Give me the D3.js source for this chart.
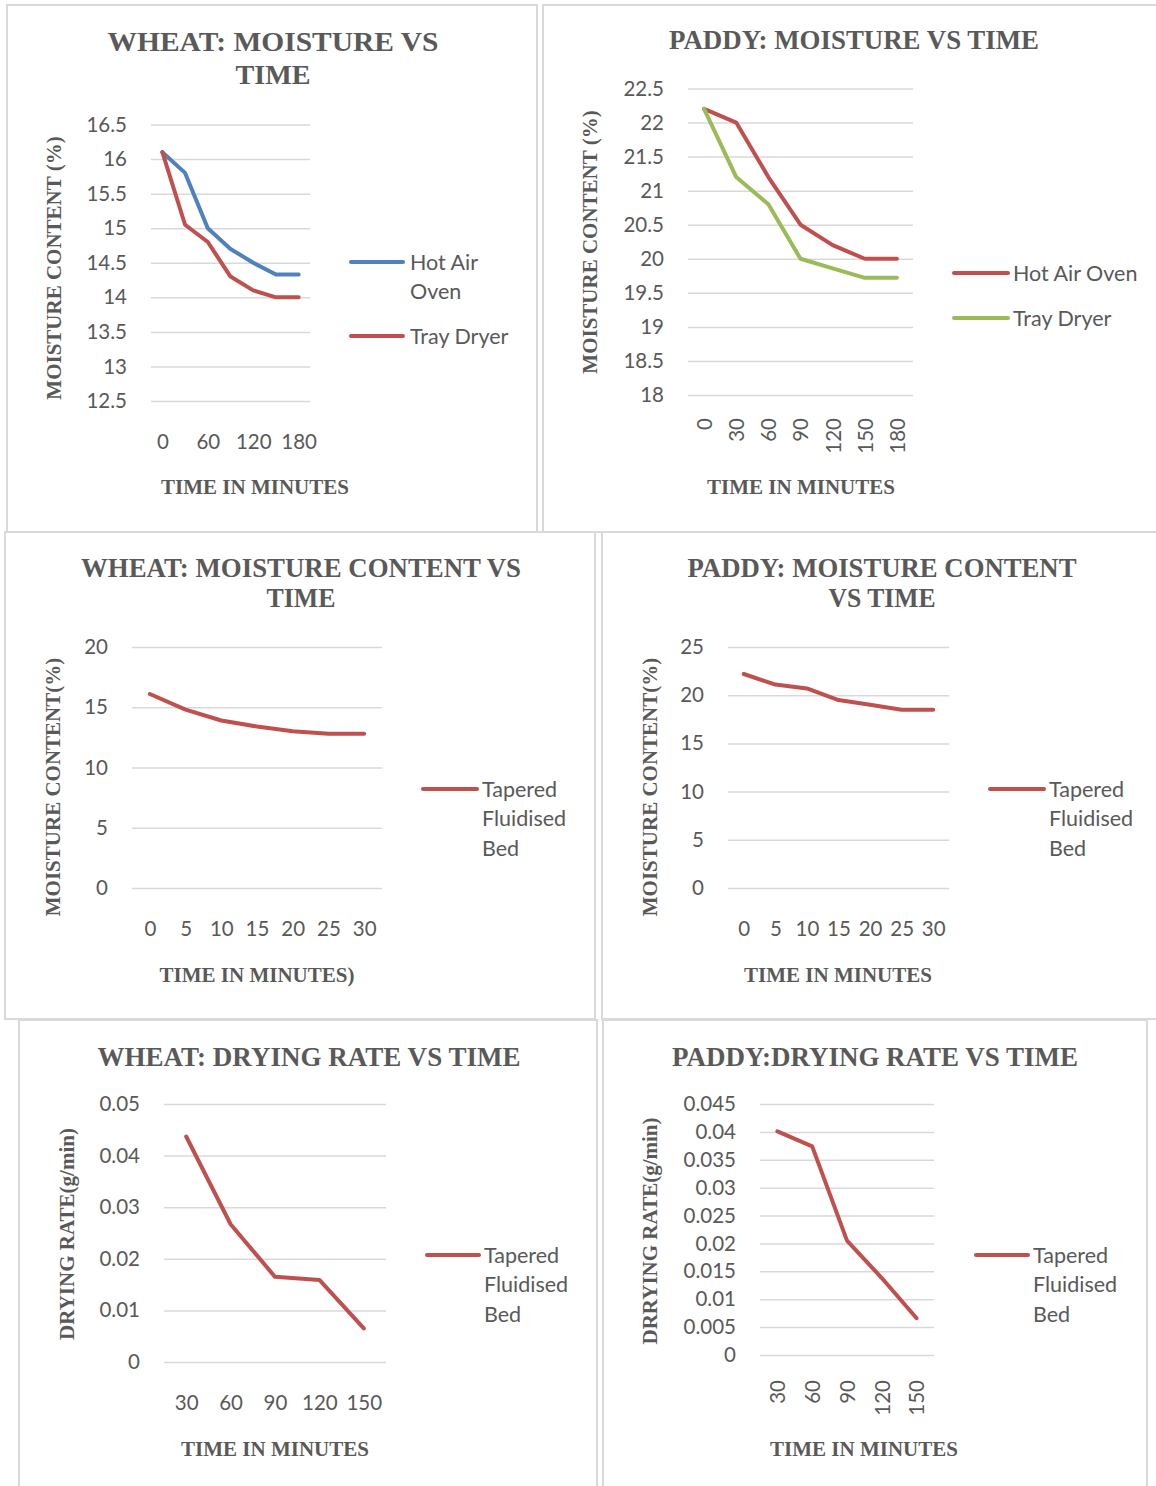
<!DOCTYPE html>
<html>
<head>
<meta charset="utf-8">
<script src="https://cdn.jsdelivr.net/npm/d3@7"></script>
<style>
  html, body { margin: 0; padding: 0; background: #ffffff; }
  svg { display: block; }
</style>
</head>
<body>
<script>
// ---------------- DATA ----------------
// Wheat: moisture vs time (Hot Air Oven / Tray Dryer)
const wheatTime = [0, 30, 60, 90, 120, 150, 180];
const wheatTimeShown = [0, 60, 120, 180];
const wheatHotAirOven = [16.1, 15.8, 15.0, 14.7, 14.5, 14.33, 14.33];
const wheatTrayDryer = [16.1, 15.05, 14.8, 14.3, 14.1, 14.0, 14.0];
const wheatMoistureTicks = [12.5, 13, 13.5, 14, 14.5, 15, 15.5, 16, 16.5];

// Paddy: moisture vs time (Hot Air Oven / Tray Dryer)
const paddyTime = [0, 30, 60, 90, 120, 150, 180];
const paddyHotAirOven = [22.2, 22.0, 21.2, 20.5, 20.2, 20.0, 20.0];
const paddyTrayDryer = [22.2, 21.2, 20.8, 20.0, 19.86, 19.72, 19.72];
const paddyMoistureTicks = [18, 18.5, 19, 19.5, 20, 20.5, 21, 21.5, 22, 22.5];

// Tapered fluidised bed: moisture content vs time
const tfbTime = [0, 5, 10, 15, 20, 25, 30];
const wheatTFB = [16.1, 14.8, 13.9, 13.4, 13.0, 12.8, 12.8];
const paddyTFB = [22.2, 21.1, 20.7, 19.5, 19.0, 18.5, 18.5];
const wheatTFBTicks = [0, 5, 10, 15, 20];
const paddyTFBTicks = [0, 5, 10, 15, 20, 25];

// Tapered fluidised bed: drying rate vs time
const rateTime = [30, 60, 90, 120, 150];
const wheatRate = [0.0437, 0.0267, 0.0165, 0.0159, 0.0065];
const paddyRate = [0.0401, 0.0374, 0.0205, 0.0138, 0.0066];
const wheatRateTicks = [0, 0.01, 0.02, 0.03, 0.04, 0.05];
const paddyRateTicks = [0, 0.005, 0.01, 0.015, 0.02, 0.025, 0.03, 0.035, 0.04, 0.045];

// ---------------- STYLE ----------------
const BLUE = "#4f81bd", RED = "#c0504d", GREEN = "#9bbb59";
const GRID = "#d9d9d9", TXT = "#595959";
const SANS = "Lato, 'Open Sans', sans-serif";
const SERIF = "'Liberation Serif', 'Times New Roman', serif";

const svg = d3.select("body").append("svg")
  .attr("width", 1156).attr("height", 1486)
  .style("background", "#ffffff");

function drawPanel(c) {
  const g = svg.append("g");
  g.append("rect")
    .attr("x", c.box[0]).attr("y", c.box[1]).attr("width", c.box[2]).attr("height", c.box[3])
    .attr("fill", "none").attr("stroke", GRID).attr("stroke-width", 2);

  const x = d3.scalePoint().domain(c.cats).range([c.gx0, c.gx1]).padding(0.5);
  const y = d3.scaleLinear().domain(d3.extent(c.yTicks)).range([c.gyBot, c.gyTop]);

  // gridlines
  const grid = g.append("g").attr("transform", `translate(${c.gx0},0)`)
    .call(d3.axisLeft(y).tickValues(c.yTicks).tickSize(-(c.gx1 - c.gx0)).tickFormat(""));
  grid.select(".domain").remove();
  grid.selectAll("line").attr("stroke", GRID).attr("stroke-width", 1.5);

  // y tick labels
  const ya = g.append("g").attr("transform", `translate(${c.gx0},0)`)
    .call(d3.axisLeft(y).tickValues(c.yTicks).tickSize(0).tickPadding(24).tickFormat(d => String(d)));
  ya.select(".domain").remove();
  ya.selectAll("text").attr("fill", TXT).style("font-family", SANS).style("font-size", "20.5px");

  // x tick labels
  const shown = c.shown || c.cats;
  const xa = g.append("g").attr("transform", `translate(0,${c.gyBot})`)
    .call(d3.axisBottom(x).tickSize(0).tickPadding(33).tickFormat(d => shown.includes(d) ? String(d) : ""));
  xa.select(".domain").remove();
  xa.selectAll("text").attr("fill", TXT).style("font-family", SANS).style("font-size", "20.5px");
  if (c.rotate) {
    xa.selectAll("text")
      .attr("y", 0).attr("x", -c.rotOffset).attr("dy", "0.36em")
      .attr("transform", "rotate(-90)")
      .style("text-anchor", "end");
  }

  // series lines
  const line = d3.line().x((d, i) => x(c.cats[i])).y(d => y(d));
  c.series.forEach(s => {
    g.append("path").datum(s.values)
      .attr("d", line).attr("fill", "none")
      .attr("stroke", s.color).attr("stroke-width", 4)
      .attr("stroke-linejoin", "round").attr("stroke-linecap", "round");
  });

  // title
  const t = g.append("text").attr("text-anchor", "middle")
    .attr("fill", TXT).style("font-family", SERIF).style("font-weight", "bold").style("font-size", "28px");
  c.title.forEach((ln, i) => {
    t.append("tspan").attr("x", c.titleX).attr("y", c.titleY[i] + 9.3)
      .attr("textLength", c.titleW[i]).attr("lengthAdjust", "spacingAndGlyphs")
      .text(ln);
  });

  // x axis title
  g.append("text").attr("x", c.xtX).attr("y", c.xtY + 7).attr("text-anchor", "middle")
    .attr("fill", TXT).style("font-family", SERIF).style("font-weight", "bold").style("font-size", "21px")
    .text(c.xTitle);

  // y axis title
  g.append("text")
    .attr("transform", `translate(${c.ytX},${c.ytY}) rotate(-90)`)
    .attr("dy", "0.33em").attr("text-anchor", "middle")
    .attr("fill", TXT).style("font-family", SERIF).style("font-weight", "bold").style("font-size", "21px")
    .text(c.yTitle);

  // legend
  c.legend.forEach(L => {
    g.append("line").attr("x1", L.x0).attr("x2", L.x1).attr("y1", L.y).attr("y2", L.y)
      .attr("stroke", L.color).attr("stroke-width", 4).attr("stroke-linecap", "round");
    const lt = g.append("text").attr("fill", TXT).style("font-family", SANS).style("font-size", "21.5px");
    L.lines.forEach((s, i) => {
      lt.append("tspan").attr("x", L.tx).attr("y", L.y + i * 29.5).attr("dy", "0.35em").text(s);
    });
  });
}

// Panel 1: wheat moisture
drawPanel({
  box: [7, 5, 530, 527],
  cats: wheatTime, shown: wheatTimeShown, yTicks: wheatMoistureTicks,
  gx0: 151, gx1: 310, gyTop: 124.5, gyBot: 401,
  series: [{ values: wheatHotAirOven, color: BLUE }, { values: wheatTrayDryer, color: RED }],
  title: ["WHEAT: MOISTURE VS", "TIME"], titleW: [331, 75], titleX: 273, titleY: [42, 75],
  xTitle: "TIME IN MINUTES", xtX: 255, xtY: 487,
  yTitle: "MOISTURE CONTENT (%)", ytX: 54, ytY: 268,
  legend: [
    { x0: 351, x1: 403, y: 262, tx: 410, color: BLUE, lines: ["Hot Air", "Oven"] },
    { x0: 351, x1: 403, y: 336, tx: 410, color: RED, lines: ["Tray Dryer"] }
  ]
});

// Panel 2: paddy moisture
drawPanel({
  box: [543, 5, 700, 527],
  cats: paddyTime, yTicks: paddyMoistureTicks,
  gx0: 688, gx1: 913, gyTop: 88.5, gyBot: 395,
  rotate: true, rotOffset: 23,
  series: [{ values: paddyHotAirOven, color: RED }, { values: paddyTrayDryer, color: GREEN }],
  title: ["PADDY: MOISTURE VS TIME"], titleW: [370], titleX: 854, titleY: [40],
  xTitle: "TIME IN MINUTES", xtX: 801, xtY: 487,
  yTitle: "MOISTURE CONTENT (%)", ytX: 590, ytY: 242,
  legend: [
    { x0: 954, x1: 1008, y: 273, tx: 1013, color: RED, lines: ["Hot Air Oven"] },
    { x0: 954, x1: 1008, y: 318, tx: 1013, color: GREEN, lines: ["Tray Dryer"] }
  ]
});

// Panel 3: wheat TFB moisture
drawPanel({
  box: [5, 532, 590, 487],
  cats: tfbTime, yTicks: wheatTFBTicks,
  gx0: 132, gx1: 382, gyTop: 647, gyBot: 888,
  series: [{ values: wheatTFB, color: RED }],
  title: ["WHEAT: MOISTURE CONTENT VS", "TIME"], titleW: [440, 69], titleX: 301, titleY: [568, 598],
  xTitle: "TIME IN MINUTES)", xtX: 257, xtY: 975,
  yTitle: "MOISTURE CONTENT(%)", ytX: 53, ytY: 787,
  legend: [
    { x0: 423, x1: 477, y: 789, tx: 482, color: RED, lines: ["Tapered", "Fluidised", "Bed"] }
  ]
});

// Panel 4: paddy TFB moisture
drawPanel({
  box: [602, 532, 600, 487],
  cats: tfbTime, yTicks: paddyTFBTicks,
  gx0: 728, gx1: 949, gyTop: 647, gyBot: 888,
  series: [{ values: paddyTFB, color: RED }],
  title: ["PADDY: MOISTURE CONTENT", "VS TIME"], titleW: [389, 107], titleX: 882, titleY: [568, 598],
  xTitle: "TIME IN MINUTES", xtX: 838, xtY: 975,
  yTitle: "MOISTURE CONTENT(%)", ytX: 650, ytY: 787,
  legend: [
    { x0: 990, x1: 1044, y: 789, tx: 1049, color: RED, lines: ["Tapered", "Fluidised", "Bed"] }
  ]
});

// Panel 5: wheat drying rate
drawPanel({
  box: [19, 1020, 578, 500],
  cats: rateTime, yTicks: wheatRateTicks,
  gx0: 164, gx1: 386, gyTop: 1104, gyBot: 1362,
  series: [{ values: wheatRate, color: RED }],
  title: ["WHEAT: DRYING RATE VS TIME"], titleW: [423], titleX: 309, titleY: [1057],
  xTitle: "TIME IN MINUTES", xtX: 275, xtY: 1449,
  yTitle: "DRYING RATE(g/min)", ytX: 67, ytY: 1234,
  legend: [
    { x0: 427, x1: 479, y: 1255, tx: 484, color: RED, lines: ["Tapered", "Fluidised", "Bed"] }
  ]
});

// Panel 6: paddy drying rate
drawPanel({
  box: [603, 1020, 544, 500],
  cats: rateTime, yTicks: paddyRateTicks,
  gx0: 760, gx1: 934, gyTop: 1104, gyBot: 1355,
  rotate: true, rotOffset: 25,
  series: [{ values: paddyRate, color: RED }],
  title: ["PADDY:DRYING RATE VS TIME"], titleW: [406], titleX: 875, titleY: [1057],
  xTitle: "TIME IN MINUTES", xtX: 864, xtY: 1449,
  yTitle: "DRRYING RATE(g/min)", ytX: 650, ytY: 1231,
  legend: [
    { x0: 976, x1: 1028, y: 1255, tx: 1033, color: RED, lines: ["Tapered", "Fluidised", "Bed"] }
  ]
});
</script>
</body>
</html>
